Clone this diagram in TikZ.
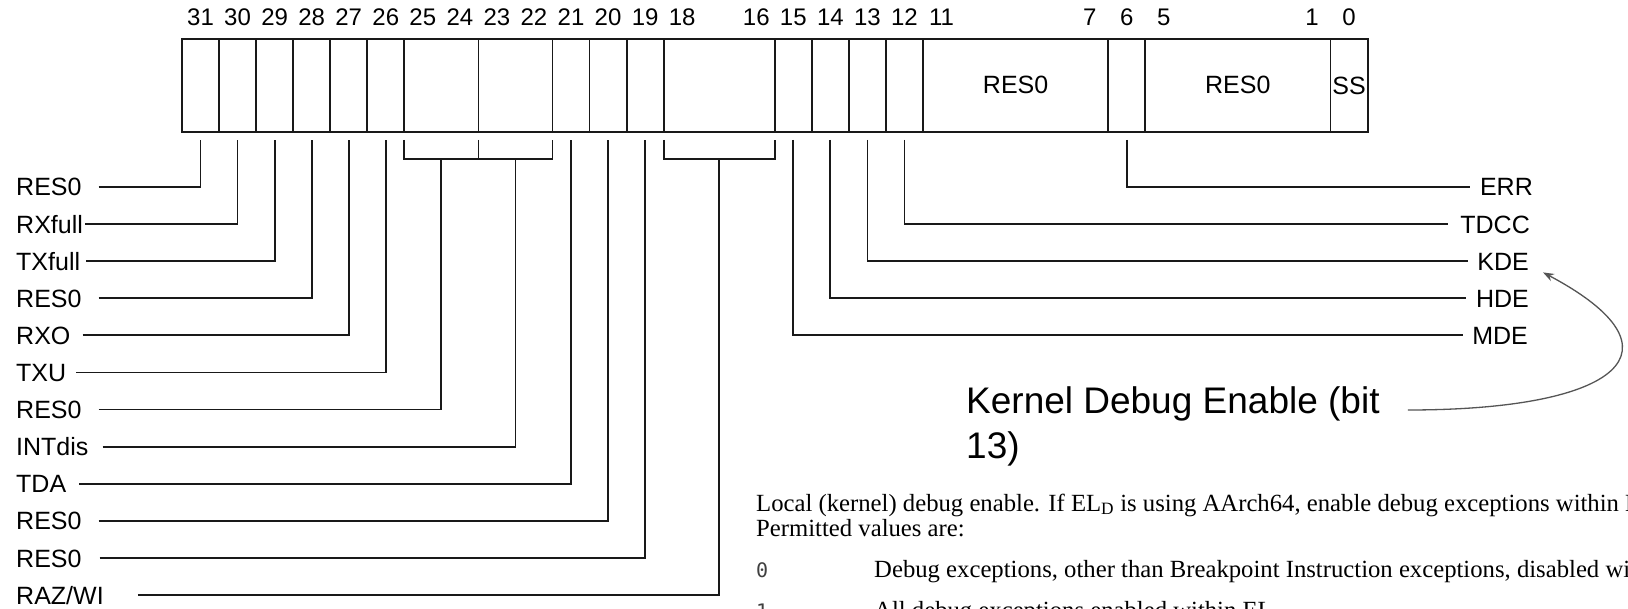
\documentclass[tikz,border=0pt]{standalone}
\usepackage{fontspec}
\setmainfont{Liberation Sans}
\newfontfamily\serifdoc{Liberation Serif}
\newfontfamily\monodoc{DejaVu Sans Mono}
\usepackage{tikz}
\usetikzlibrary{arrows.meta, positioning, calc}
\usepackage{xcolor}
\definecolor{ink}{RGB}{25,25,25}
\definecolor{pointer}{RGB}{85,85,85}

\begin{document}
\begin{tikzpicture}[x=1pt, y=-1pt,
  wire/.style={ink, line width=1.8pt},
  field/.style={font=\fontsize{25}{30}\selectfont, inner sep=0pt, text height=18pt, text depth=0pt},
  bitnum/.style={font=\fontsize{24}{28}\selectfont, inner sep=0pt, anchor=base},
  doc/.style={font=\serifdoc\fontsize{24.7}{28}\selectfont, inner sep=0pt, anchor=base west},
  val/.style={font=\monodoc\fontsize{20}{24}\selectfont, text=black!75, inner sep=0pt, anchor=base west},
  note/.style={font=\fontsize{37}{45}\selectfont, inner sep=0pt, align=left, anchor=north west}]
  \fill[white] (0,0) rectangle (1628,609);
  \useasboundingbox (0,0) rectangle (1628,609);

  % register box
  \draw[wire, fill=white] (182,39) rectangle (1367.6,131.7);
  \foreach \i in {1,...,6,8,10,11,12,13,16,17,18,19,20,25,26,31}
    \draw[wire] ({182+\i*37.05},39) -- ({182+\i*37.05},131.7);
  % bit numbers
  \foreach \b in {31,30,...,18,16,15,14,13,12,11,7,6,5,1,0}
    \node[bitnum] (n\b) at ({182+(31.5-\b)*37.05},26) {\b};
  % taps under the bits
  \foreach \b in {0,...,31}
    \coordinate (t\b) at ({182+(31.5-\b)*37.05},140);

  % fields inside the box
  \node[field] (res11) at (1015.6,85) {RES0};
  \node[field] (res5) at (1237.8,85) {RES0};
  \node[field] (ss) at (1349,86) {SS};

  % brackets for the wide fields
  \draw[wire] (404.3,140) |- (552.5,159) -- (552.5,140);
  \draw[wire] (478.4,140) -- (478.4,159);
  \draw[wire] (663.7,140) |- (774.8,159) -- (774.8,140);
  \coordinate (g25) at (441.35,159);
  \coordinate (g23) at (515.45,159);
  \coordinate (g18) at (719.2,159);

  % left side
  \node[field, anchor=west] (l31) at (16,187) {RES0};
  \node[field, anchor=west] (l30) at (16,224.1) {RXfull};
  \node[field, anchor=west] (l29) at (16,261.2) {TXfull};
  \node[field, anchor=west] (l28) at (16,298.3) {RES0};
  \node[field, anchor=west] (l27) at (16,335.4) {RXO};
  \node[field, anchor=west] (l26) at (16,372.5) {TXU};
  \node[field, anchor=west] (l25) at (16,409.6) {RES0};
  \node[field, anchor=west] (l23) at (16,446.7) {INTdis};
  \node[field, anchor=west] (l21) at (16,483.8) {TDA};
  \node[field, anchor=west] (l20) at (16,520.9) {RES0};
  \node[field, anchor=west] (l19) at (16,558) {RES0};
  \node[field, anchor=west] (l18) at (16,595.1) {RAZ/WI};
  \draw[wire] ([xshift=17pt]l31.east) -| (t31);
  \draw[wire] ([xshift=2pt]l30.east) -| (t30);
  \draw[wire] ([xshift=6pt]l29.east) -| (t29);
  \draw[wire] ([xshift=17pt]l28.east) -| (t28);
  \draw[wire] ([xshift=12pt]l27.east) -| (t27);
  \draw[wire] ([xshift=10pt]l26.east) -| (t26);
  \draw[wire] ([xshift=17pt]l25.east) -| (g25);
  \draw[wire] ([xshift=14pt]l23.east) -| (g23);
  \draw[wire] ([xshift=13pt]l21.east) -| (t21);
  \draw[wire] ([xshift=17pt]l20.east) -| (t20);
  \draw[wire] ([xshift=18pt]l19.east) -| (t19);
  \draw[wire] ([xshift=34pt]l18.east) -| (g18);

  % right side
  \node[field, anchor=east] (err) at (1533,187) {ERR};
  \node[field, anchor=east] (tdcc) at (1530,224.1) {TDCC};
  \node[field, anchor=east] (kde) at (1529,261.2) {KDE};
  \node[field, anchor=east] (hde) at (1529,298.3) {HDE};
  \node[field, anchor=east] (mde) at (1528,335.4) {MDE};
  \draw[wire] (t6) |- ([xshift=-10pt]err.west);
  \draw[wire] (t12) |- ([xshift=-12pt]tdcc.west);
  \draw[wire] (t13) |- ([xshift=-9pt]kde.west);
  \draw[wire] (t14) |- ([xshift=-10pt]hde.west);
  \draw[wire] (t15) |- ([xshift=-9pt]mde.west);

  % KDE callout
  \node[note] (kernel) at (966,386) {Kernel Debug Enable (bit\\13)};
  \draw[pointer, line width=1.3pt, -{Stealth[length=11pt,width=8pt]}]
    ([xshift=28pt,yshift=-24pt]kernel.north east) .. controls +(212,0) and +(147,78) .. ([xshift=14pt,yshift=-2pt]kde.south east);

  % description
  \node[doc] (desc) at (756,511) {Local (kernel) debug enable. If EL\textsubscript{D} is using AArch64, enable debug exceptions within EL};
  \node[doc] (perm) at (756,536) {Permitted values are:};
  \node[val] (v0) at (756,577) {0};
  \node[doc] (v0txt) at (874,577) {Debug exceptions, other than Breakpoint Instruction exceptions, disabled within};
  \node[val] (v1) at (756,618) {1};
  \node[doc] (v1txt) at (874,618) {All debug exceptions enabled within EL};
\end{tikzpicture}
\end{document}
